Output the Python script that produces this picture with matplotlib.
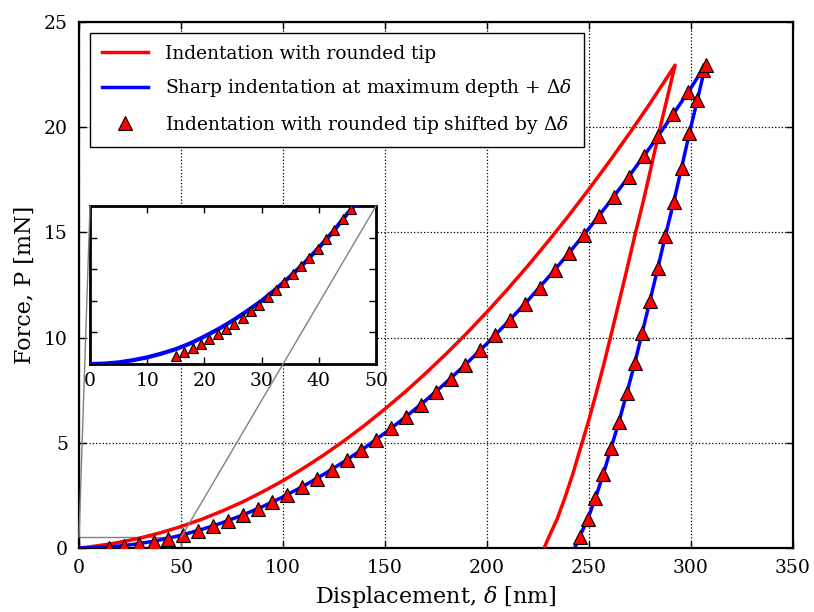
import numpy as np
import matplotlib
matplotlib.use("Agg")
import matplotlib.pyplot as plt
from matplotlib.patches import Rectangle, ConnectionPatch

# ---------------- data ----------------
# rounded tip: loading and unloading
red_load_x = [0, 5, 10, 15, 20, 25, 30, 40, 50, 60, 70, 80, 90, 100, 110, 120, 130,
              140, 150, 160, 170, 180, 190, 200, 210, 220, 230, 240, 250, 260, 270, 280, 292.2]
red_load_y = [0.0, 0.05, 0.12, 0.19, 0.275, 0.37, 0.476, 0.725, 1.02, 1.36, 1.75, 2.18, 2.67,
              3.20, 3.79, 4.42, 5.10, 5.83, 6.61, 7.43, 8.31, 9.23, 10.20, 11.22, 12.29, 13.41,
              14.58, 15.79, 17.06, 18.37, 19.73, 21.14, 22.95]
red_unload_x = [292.2, 288.1, 284.2, 280.4, 276.5, 272.4, 268.7, 264.9, 261.1, 257.4, 253.5,
                249.7, 245.8, 242.0, 238.1, 234.4, 230.4, 228.0]
red_unload_y = [22.95, 21.29, 19.71, 18.08, 16.43, 14.83, 13.29, 11.76, 10.24, 8.78, 7.35,
                6.01, 4.74, 3.50, 2.36, 1.38, 0.54, 0.0]

# sharp indentation
blue_load_x = [0, 5, 10, 15, 20, 25, 30, 35, 40, 45, 50, 60, 70, 80, 90, 100, 110, 120, 130,
               140, 150, 160, 170, 180, 190, 200, 210, 220, 230, 240, 250, 260, 270, 280, 290,
               300, 307.2]
blue_load_y = [0.0, 0.006, 0.024, 0.055, 0.097, 0.152, 0.219, 0.298, 0.389, 0.492, 0.608,
               0.875, 1.191, 1.555, 1.968, 2.43, 2.94, 3.50, 4.11, 4.76, 5.47, 6.22, 7.02,
               7.87, 8.77, 9.72, 10.72, 11.76, 12.86, 14.00, 15.19, 16.43, 17.72, 19.05,
               20.44, 21.87, 22.98]
blue_unload_x = [307.2, 303.1, 299.2, 295.4, 291.5, 287.4, 283.7, 279.9, 276.1, 272.4, 268.5,
                 264.7, 260.8, 257.0, 253.1, 249.4, 245.4, 243.0]
blue_unload_y = [22.98, 21.29, 19.71, 18.08, 16.43, 14.83, 13.29, 11.76, 10.24, 8.78, 7.35,
                 6.01, 4.74, 3.50, 2.36, 1.38, 0.54, 0.0]

# rounded tip shifted by delta (markers)
tri_x = [14.7, 21.98, 29.26, 36.54, 43.82, 51.1, 58.38, 65.66, 72.94, 80.22, 87.5, 94.78,
         102.06, 109.34, 116.62, 123.9, 131.18, 138.46, 145.74, 153.02, 160.3, 167.58,
         174.86, 182.14, 189.42, 196.7, 203.98, 211.26, 218.54, 225.82, 233.1, 240.38,
         247.66, 254.94, 262.22, 269.5, 276.78, 284.06, 291.34, 298.62, 305.9,
         307.2, 303.1, 299.2, 295.4, 291.5, 287.4, 283.7, 279.9, 276.1, 272.4, 268.5,
         264.7, 260.8, 257.0, 253.1, 249.4, 245.4]
tri_y = [0.02, 0.09, 0.18, 0.30, 0.45, 0.62, 0.82, 1.04, 1.28, 1.55, 1.85, 2.17, 2.52, 2.90,
         3.30, 3.72, 4.17, 4.65, 5.15, 5.68, 6.23, 6.81, 7.42, 8.05, 8.71, 9.39, 10.10, 10.84,
         11.60, 12.38, 13.19, 14.03, 14.89, 15.78, 16.70, 17.64, 18.61, 19.60, 20.62, 21.66,
         22.73,
         22.98, 21.29, 19.71, 18.08, 16.43, 14.83, 13.29, 11.76, 10.24, 8.78, 7.35, 6.01,
         4.74, 3.50, 2.36, 1.38, 0.54]

# inset: sharp curve and finer-sampled markers
inset_blue_x = [0, 2.5, 5, 7.5, 10, 12.5, 15, 17.5, 20, 22.5, 25, 27.5, 30, 32.5, 35, 37.5,
                40, 42.5, 45, 46.2]
inset_blue_y = [0.0, 0.0013, 0.005, 0.012, 0.021, 0.033, 0.047, 0.065, 0.087, 0.111, 0.138,
                0.168, 0.200, 0.237, 0.277, 0.320, 0.368, 0.419, 0.476, 0.5]
inset_tri_x = [14.98, 16.49, 17.95, 19.41, 20.86, 22.32, 23.78, 25.23, 26.69, 28.15, 29.6,
               31.06, 32.52, 33.97, 35.43, 36.89, 38.34, 39.8, 41.26, 42.71, 44.17, 45.63]
inset_tri_y = [0.025, 0.038, 0.052, 0.064, 0.078, 0.094, 0.110, 0.128, 0.147, 0.167, 0.188,
               0.212, 0.235, 0.260, 0.284, 0.309, 0.337, 0.365, 0.395, 0.425, 0.458, 0.490]

xticks = [0, 50, 100, 150, 200, 250, 300, 350]
yticks = [0, 5, 10, 15, 20, 25]
inset_xticks = [0, 10, 20, 30, 40, 50]
inset_yticks = [0.1, 0.2, 0.3, 0.4]

labels = ["Indentation with rounded tip",
          r"Sharp indentation at maximum depth + $\Delta\delta$",
          r"Indentation with rounded tip shifted by $\Delta\delta$"]

# ---------------- style ----------------
plt.rcParams["font.family"] = ["DejaVu Serif"]
plt.rcParams["mathtext.fontset"] = "dejavuserif"
plt.rcParams["xtick.direction"] = "in"
plt.rcParams["ytick.direction"] = "in"
plt.rcParams["xtick.top"] = True
plt.rcParams["ytick.right"] = True

fig = plt.figure(figsize=(8.14, 6.12), dpi=100)
ax = fig.add_axes([79 / 814, 1 - 548 / 612, 714 / 814, 526 / 612])

red_x = np.concatenate([red_load_x, red_unload_x])
red_y = np.concatenate([red_load_y, red_unload_y])
blue_x = np.concatenate([blue_load_x, blue_unload_x])
blue_y = np.concatenate([blue_load_y, blue_unload_y])

ax.plot(red_x, red_y, color="#ff0000", lw=2.5, label=labels[0], zorder=3)
ax.plot(blue_x, blue_y, color="#0000ff", lw=2.5, label=labels[1], zorder=3)
ax.plot(tri_x, tri_y, ls="none", marker="^", ms=9.5, mfc="#ff0000", mec="black", mew=0.8,
        label=labels[2], zorder=4)

ax.set_xlim(0, 350)
ax.set_ylim(0, 25)
ax.set_xticks(xticks)
ax.set_yticks(yticks)
ax.grid(True, color="black", ls=":", lw=0.9)
ax.tick_params(which="major", length=5, width=1, labelsize=13.5, pad=8)
for s in ax.spines.values():
    s.set_linewidth(1.6)
ax.set_xlabel(r"Displacement, $\delta$ [nm]", fontsize=16, labelpad=5)
ax.set_ylabel("Force, P [mN]", fontsize=16, labelpad=6)

leg = ax.legend(loc="upper left", fontsize=13.4, numpoints=1, handlelength=2.5,
                handletextpad=0.9, fancybox=False, framealpha=1, edgecolor="black",
                borderpad=0.62, labelspacing=0.78, borderaxespad=0.6)
leg.get_frame().set_linewidth(1.0)

# zoom rectangle in main axes
ax.add_patch(Rectangle((0, 0), 50, 0.5, fill=False, ec="0.5", lw=1, zorder=2))

# inset
axins = fig.add_axes([90 / 814, 1 - 364 / 612, 286 / 814, 158 / 612])
axins.plot(inset_blue_x, inset_blue_y, color="#0000ff", lw=3, zorder=3)
axins.plot(inset_tri_x, inset_tri_y, ls="none", marker="^", ms=7.5, mfc="#ff0000",
           mec="black", mew=0.8, zorder=4)
axins.set_xlim(0, 50)
axins.set_ylim(0, 0.5)
axins.set_xticks(inset_xticks)
axins.set_yticks(inset_yticks)
axins.set_yticklabels([])
axins.tick_params(which="major", length=5, width=1, labelsize=13.5, pad=6)
for s in axins.spines.values():
    s.set_linewidth(2)

for (xa, ya), (xb, yb) in [((0, 0.5), (0, 1)), ((50, 0.5), (1, 1))]:
    con = ConnectionPatch(xyA=(xa, ya), coordsA=ax.transData,
                          xyB=(xb, yb), coordsB=axins.transAxes,
                          color="0.5", lw=1, zorder=5)
    fig.add_artist(con)

fig.savefig("out.png", dpi=100, facecolor="white")
